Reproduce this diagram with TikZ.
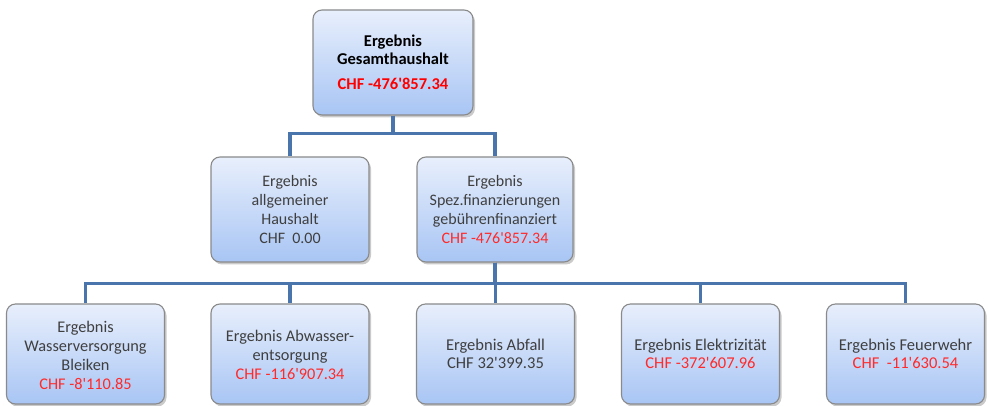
\documentclass[tikz,border=0pt]{standalone}
\usepackage{fontspec}
\setmainfont{Carlito}[Ligatures=TeXOff]
\usetikzlibrary{shadows}
\definecolor{txt}{HTML}{3F3F3F}
\definecolor{redA}{HTML}{FF0000}
\definecolor{redB}{HTML}{FF2A2A}
\definecolor{boxtop}{HTML}{E8EFFC}
\definecolor{boxbot}{HTML}{A8C5F4}
\definecolor{boxline}{HTML}{8A8A8A}
\definecolor{conn}{HTML}{4A74AC}
\newcommand{\lowered}[2]{\raisebox{#1}[\height][\depth]{\begin{tabular}{@{}c@{}}#2\end{tabular}}}
\begin{document}
\begin{tikzpicture}[x=1pt,y=-1pt,
  box/.style={rectangle, rounded corners=9pt, draw=boxline, line width=1.1pt,
    top color=boxtop, bottom color=boxbot, text=txt, align=center,
    minimum width=#1, inner sep=0pt,
    drop shadow={shadow xshift=2pt, shadow yshift=-2.5pt, opacity=0.35, fill=black!60}},
  box/.default=158pt,
  conn/.style={draw=conn, line width=3.5pt, line join=miter},
  big/.style={font=\fontsize{16}{19}\selectfont},
  small/.style={font=\fontsize{16.5}{18.5}\selectfont}
]
\useasboundingbox (0,0) rectangle (989,406);
\clip (0,0) rectangle (989,406);

% top
\node[box=160pt, minimum height=105pt, font=\fontsize{16.5}{17.5}\selectfont\bfseries, text=black]
  (top) at (393,62.5) {Ergebnis\\Gesamthaushalt\\[8pt]\textcolor{redA}{CHF -476'857.34}};

% level 2
\node[box=158pt, minimum height=105pt, big] (l2a) at (290,209.5)
  {Ergebnis\\allgemeiner\\Haushalt\\CHF\ \ 0.00};
\node[box=156pt, minimum height=105pt, big] (l2b) at (495,209.5)
  {Ergebnis\\Spez.finanzierungen\\gebührenfinanziert\\\textcolor{redB}{CHF -476'857.34}};

% level 3
\node[box, minimum height=100pt, font=\fontsize{16.3}{19}\selectfont] (c1) at (85.5,354)
  {\lowered{-3pt}{Ergebnis\\Wasserversorgung\\Bleiken\\\textcolor{redB}{CHF -8'110.85}}};
\node[box, minimum height=100pt, font=\fontsize{16.3}{19}\selectfont] (c2) at (290,354)
  {\lowered{-3pt}{Ergebnis Abwasser-\\entsorgung\\\textcolor{redB}{CHF -116'907.34}}};
\node[box, minimum height=100pt, small] (c3) at (495.5,354)
  {\lowered{-2pt}{Ergebnis Abfall\\CHF 32'399.35}};
\node[box, minimum height=100pt, small] (c4) at (700.5,354)
  {\lowered{-2pt}{Ergebnis Elektrizität\\\textcolor{redB}{CHF -372'607.96}}};
\node[box, minimum height=100pt, small] (c5) at (905.5,354)
  {\lowered{-2pt}{Ergebnis Feuerwehr\\\textcolor{redB}{CHF\ \ -11'630.54}}};

% connectors
\draw[conn] (top.south) -- ++(0,18) -| (l2a.north);
\draw[conn] (top.south) -- ++(0,18) -| (l2b.north);
\foreach \c in {c1,c2,c3,c4,c5}
  \draw[conn] (l2b.south) -- ++(0,21) -| (\c.north);
\end{tikzpicture}
\end{document}
